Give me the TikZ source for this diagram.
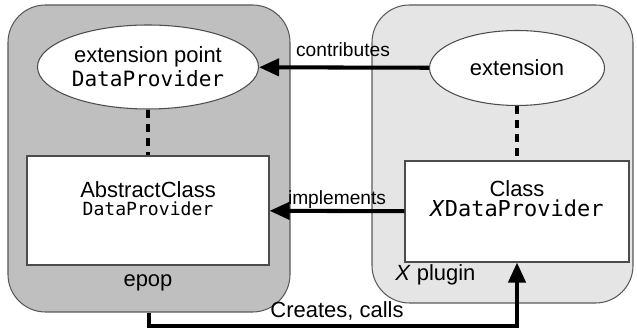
\documentclass[tikz,border=0pt]{standalone}
\usepackage{fontspec}
\setmainfont{Liberation Sans}
\setmonofont{DejaVu Sans Mono}
\usetikzlibrary{shapes.geometric,arrows.meta}

\tikzset{
    plugin/.style={draw=black!65, line width=0.6pt, rounded corners=0.75cm, inner sep=0pt},
    extpt/.style={ellipse, draw=black!70, fill=white, line width=0.6pt, inner sep=0pt, align=center},
    classbox/.style={rectangle, draw=black!70, fill=white, line width=0.6pt, inner sep=0pt},
    flow/.style={line width=2.3pt, -{Triangle[length=0.4cm,width=0.34cm]}},
    link/.style={line width=2.3pt, dash pattern=on 0.16cm off 0.12cm},
    lbl/.style={inner sep=1pt, font=\fontsize{10.9}{12}\selectfont},
}

\begin{document}
\begin{tikzpicture}
        \useasboundingbox (0,0) rectangle (12.74,6.62);
        % The two plugins.
            \node[plugin, fill=black!25, minimum width=5.64cm, minimum height=6.14cm] (epop) at (2.98,3.45) {};
            \node[plugin, fill=black!10, minimum width=5.22cm, minimum height=5.96cm] (xplug) at (10.05,3.54) {};
        % Extension point and extension.
            \node[extpt, minimum width=4.42cm, minimum height=1.68cm, font=\fontsize{12.5}{13.5}\selectfont] (ep) at (2.96,5.28) {extension point\\{\ttfamily\fontsize{12}{13.5}\selectfont DataProvider}};
            \node[extpt, minimum width=3.5cm, minimum height=1.5cm, font=\fontsize{12.5}{13.5}\selectfont] (ext) at (10.34,5.26) {extension};
        % The classes.
            \node[classbox, minimum width=4.84cm, minimum height=2.18cm] (abs) at (2.96,2.41) {};
            \node[classbox, minimum width=4.48cm, minimum height=2.02cm] (xcls) at (10.34,2.39) {};
            \node[align=center, inner sep=0pt, font=\fontsize{12.5}{10.2}\selectfont] (abstxt) at (2.96,2.64) {AbstractClass\\{\ttfamily\fontsize{10.3}{10.2}\selectfont DataProvider}};
            \node[align=center, inner sep=0pt, font=\fontsize{12.5}{11.4}\selectfont] (xclstxt) at (10.34,2.64) {Class\\{\ttfamily\fontsize{12.5}{11.4}\selectfont\textit{X}DataProvider}};
        % Below nodes are the labels.
            \node[font=\fontsize{12.5}{14}\selectfont] (epoplbl) at (2.96,0.96) {epop};
            \node[anchor=west, inner sep=0pt, font=\fontsize{12.5}{14}\selectfont] (xpluglbl) at (7.9,1.12) {\textit{X} plugin};
            \node[lbl] (contrib) at (6.86,5.62) {contributes};
            \node[lbl] (impl) at (6.74,2.62) {implements};
            \node[font=\fontsize{12.5}{14}\selectfont, inner sep=1pt] (calls) at (6.74,0.4) {Creates, calls};
        % This draws the connectors.
            \draw[link] (ep) -- (abs);
            \draw[link] (ext) -- (xcls);
            \draw[flow] (ext) -- (ep);
            \draw[flow] (xcls) -- (abs);
            \draw[flow] (epop.south) -- ++(0,-0.26) -| (xcls.south);
    \end{tikzpicture}
\end{document}
